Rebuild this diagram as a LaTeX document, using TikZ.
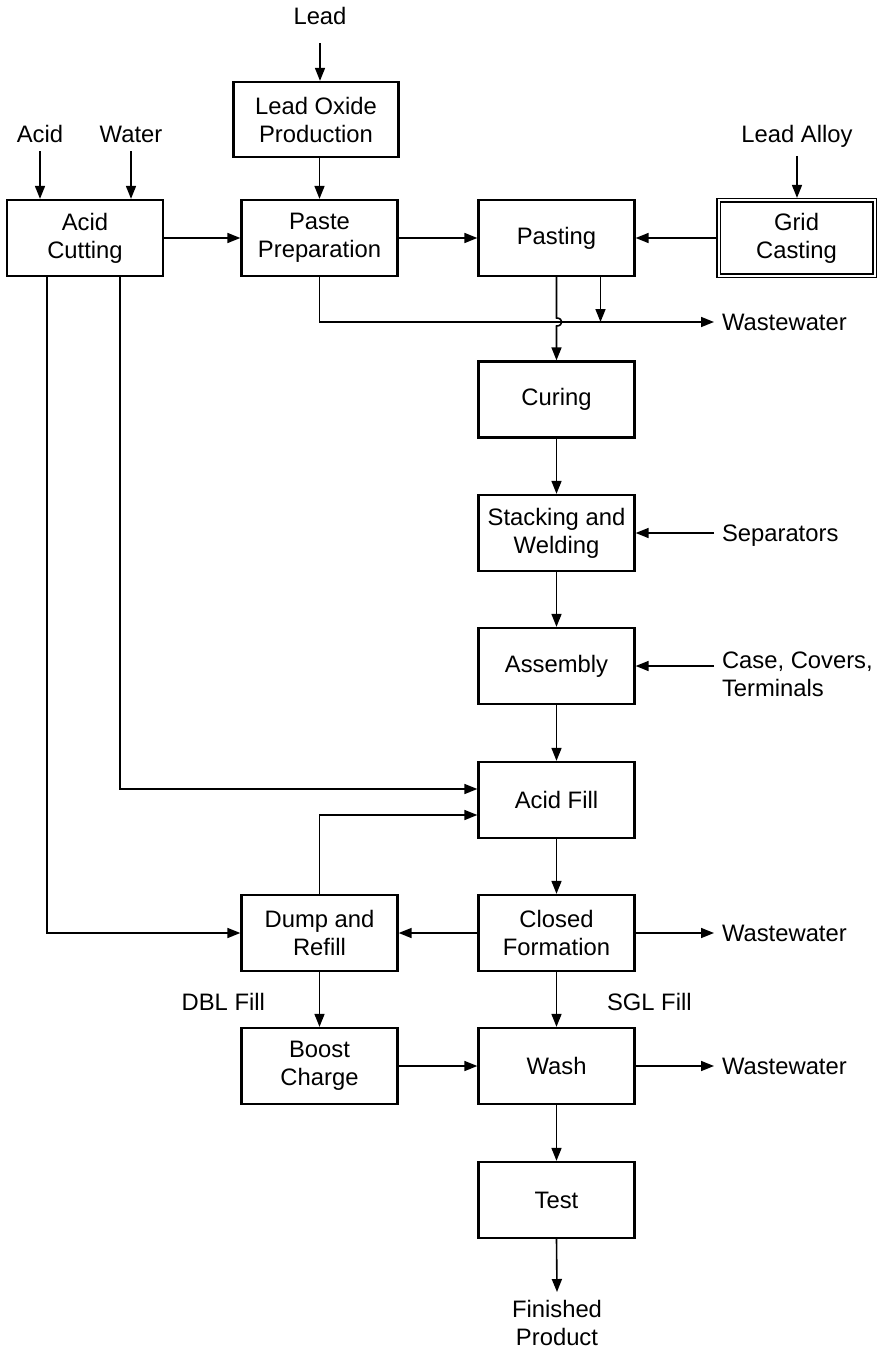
\documentclass[tikz,border=0pt]{standalone}
\usepackage{fontspec}
\setmainfont{Liberation Sans}
\usepackage{tikz}
\usetikzlibrary{arrows.meta,calc}

\begin{document}
\begin{tikzpicture}[
    x=1pt,y=-1pt,
    font=\fontsize{23.8}{28}\selectfont,
    box/.style={draw,line width=2.3pt,minimum width=156pt,minimum height=76pt,inner sep=0pt,align=center},
    dblbox/.style={box,line width=1.6pt,double,double distance=2pt,minimum height=75pt,outer sep=2.6pt},
    feed/.style={inner sep=0pt,outer sep=8pt,align=center},
    sidefeed/.style={feed,text height=17pt,text depth=0pt,anchor=west},
    flow/.style={line width=1.6pt},
    >={Triangle[length=13pt,width=10pt]}
]
\useasboundingbox (0,0) rectangle (880,1348);

% process blocks
\node[box,minimum width=165pt,minimum height=75pt] (lop) at (316,119.5) {Lead Oxide\\Production};
\node[box] (ac) at (85,238) {Acid\\Cutting};
\node[box] (pp) at (319.5,238) {Paste\\Preparation};
\node[box] (past) at (556.5,238) {Pasting};
\node[dblbox] (grid) at (796.5,238) {Grid\\Casting};
\node[box] (cur) at (556.5,399.5) {Curing};
\node[box] (stw) at (556.5,533) {Stacking and\\Welding};
\node[box] (asm) at (556.5,666) {Assembly};
\node[box] (afill) at (556.5,800) {Acid Fill};
\node[box] (cform) at (556.5,933) {Closed\\Formation};
\node[box] (dump) at (319.5,933) {Dump and\\Refill};
\node[box] (boost) at (319.5,1066) {Boost\\Charge};
\node[box] (wash) at (556.5,1066) {Wash};
\node[box] (test) at (556.5,1200) {Test};

% inputs and outputs
\node[feed,anchor=base] (lead) at (320,25) {Lead};
\node[feed,anchor=base] (acid) at (40,143) {Acid};
\node[feed,anchor=base] (water) at (131,143) {Water};
\node[feed,anchor=base] (alloy) at (797,143) {Lead Alloy};
\node[sidefeed] (ww1) at (714,322) {Wastewater};
\node[sidefeed] (sep) at (714,533) {Separators};
\node[feed,anchor=north west,align=left] (ccv) at (714,644) {Case, Covers,\\Terminals};
\node[sidefeed] (ww2) at (714,933) {Wastewater};
\node[sidefeed] (ww3) at (714,1066) {Wastewater};
\node[feed,anchor=north] (fin) at (557,1292) {Finished\\Product};
\node[feed,outer sep=0pt,anchor=base east] (dbl) at (265,1010) {DBL Fill};
\node[feed,outer sep=0pt,anchor=base west] (sgl) at (607,1010) {SGL Fill};

% top feeds
\draw[flow,->,shorten <=10pt] (lead.south) -- (lead.south |- lop.north);
\draw[flow,->] (pp.north |- lop.south) -- (pp.north);
\draw[flow,->] (acid.south) -- (acid.south |- ac.north);
\draw[flow,->] (water.south) -- (water.south |- ac.north);
\draw[flow,->] (alloy.south) -- (alloy.south |- grid.north);

% plate line
\draw[flow,->] (ac) -- (pp);
\draw[flow,->] (pp) -- (past);
\draw[flow,->] (grid) -- (past);
\draw[flow,->] (pp.south) |- (ww1.west);
\draw[flow,->] ([xshift=44pt]past.south) -- ([xshift=44pt]past.south |- ww1.west);
\draw[flow,->] (past.south) -- ([yshift=4pt]past.south |- ww1.west)
    .. controls +(7,0) and +(7,0) .. ([yshift=-4pt]past.south |- ww1.west) -- (cur.north);
\draw[flow,->] (cur) -- (stw);
\draw[flow,->] (sep.west) -- (stw.east);
\draw[flow,->] (stw) -- (asm);
\draw[flow,->] (asm.east -| ccv.west) -- (asm.east);
\draw[flow,->] (asm) -- (afill);

% acid lines
\draw[flow,->] ([xshift=35pt]ac.south) |- ([yshift=11pt]afill.west);
\draw[flow,->] ([xshift=-38pt]ac.south) |- (dump.west);
\draw[flow,->] (dump.north) |- ([yshift=-15pt]afill.west);

% formation and finishing
\draw[flow,->] (afill) -- (cform);
\draw[flow,->] (cform) -- (dump);
\draw[flow,->] (cform.east) -- (ww2.west);
\draw[flow,->] (dump) -- (boost);
\draw[flow,->] (cform) -- (wash);
\draw[flow,->] (boost) -- (wash);
\draw[flow,->] (wash.east) -- (ww3.west);
\draw[flow,->] (wash) -- (test);
\draw[flow,->] (test.south) -- (fin.north);
\end{tikzpicture}
\end{document}
